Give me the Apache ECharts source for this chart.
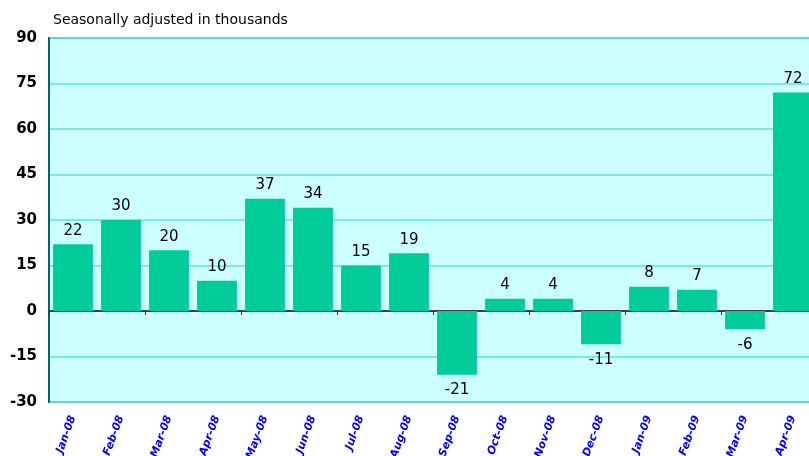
<!DOCTYPE html>
<html><head><meta charset="utf-8">
<script src="https://cdn.jsdelivr.net/npm/echarts@6/dist/echarts.min.js"></script>
<style>html,body{margin:0;padding:0;background:#fff}#c{width:809px;height:456px}</style>
</head><body><div id="c"></div>
<script>
const categories = ['Jan-08','Feb-08','Mar-08','Apr-08','May-08','Jun-08','Jul-08','Aug-08','Sep-08','Oct-08','Nov-08','Dec-08','Jan-09','Feb-09','Mar-09','Apr-09'];
const values = [22,30,20,10,37,34,15,19,-21,4,4,-11,8,7,-6,72];
const yTicks = { min: -30, max: 90, interval: 15 };
const subtitle = 'Seasonally adjusted in thousands';

const chart = echarts.init(document.getElementById('c'), null, {renderer:'canvas'});
chart.setOption({
  animation: false,
  title: { text: subtitle, left: 53, top: 13, padding: 0, textStyle: { fontFamily: 'DejaVu Sans', fontSize: 14, fontWeight: 'normal', color: '#000' } },
  grid: { left: 49, top: 38, width: 768, height: 364, show: true, backgroundColor: '#ccffff', borderColor: '#33cccc', borderWidth: 2, containLabel: false, outerBoundsMode: 'none' },
  xAxis: [
    { type: 'category', data: categories, position: 'bottom',
      axisLine: { onZero: true, lineStyle: { color: '#404040', width: 2 } },
      axisTick: { show: true, alignWithLabel: false, length: 4, lineStyle: { color: '#333' } },
      axisLabel: { show: false } },
    { type: 'category', data: categories, position: 'bottom',
      axisLine: { show: false, onZero: false }, axisTick: { show: false },
      axisLabel: { show: true, rotate: 70, margin: 14, color: '#0000ff', fontFamily: 'DejaVu Sans', fontSize: 11, fontWeight: 'bold', fontStyle: 'italic', interval: 0 } }
  ],
  yAxis: { type: 'value', min: yTicks.min, max: yTicks.max, interval: yTicks.interval,
    axisLine: { show: true, onZero: false, lineStyle: { color: '#006666', width: 2 } },
    axisTick: { show: false },
    axisLabel: { color: '#000', fontFamily: 'DejaVu Sans', fontSize: 15, fontWeight: 'bold', margin: 12 },
    splitLine: { lineStyle: { color: '#66dddd', width: 1.5 } } },
  series: [{
    type: 'bar', xAxisIndex: 0, barCategoryGap: '17%',
    data: values.map(v => ({ value: v, label: { position: v < 0 ? 'bottom' : 'top', distance: v < 0 ? 8 : 6 } })),
    itemStyle: { color: '#00cc99' },
    label: { show: true, fontFamily: 'DejaVu Sans', fontSize: 15, color: '#000',
      formatter: p => String(p.value) }
  }]
});
</script></body></html>
